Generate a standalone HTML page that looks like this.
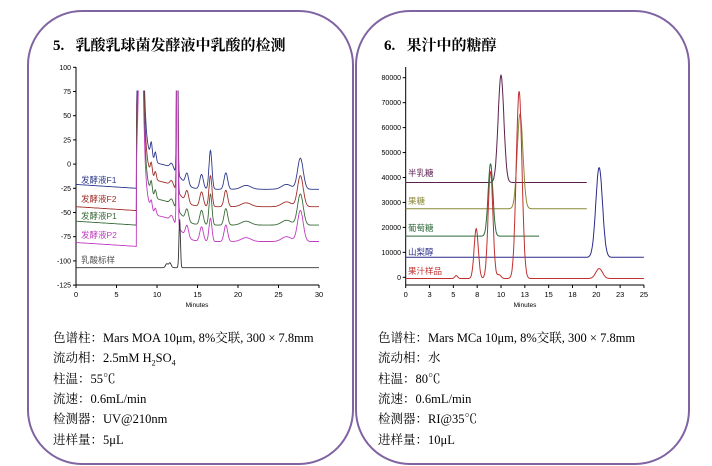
<!DOCTYPE html>
<html><head><meta charset="utf-8"><style>
body{margin:0;width:712px;height:466px;background:#fff;overflow:hidden;position:relative;font-family:"Liberation Serif","Noto Serif CJK SC",serif}
.card{position:absolute;border:2.5px solid #8064a2;border-radius:55px;box-sizing:border-box}
.t{position:absolute;font-size:15px;font-weight:bold;font-family:"Liberation Serif","Noto Serif CJK SC",serif;color:#000}
.p{position:absolute;font-size:12.5px;color:#000;line-height:14px;white-space:nowrap}
svg{position:absolute;left:0;top:0}
</style></head><body>
<div class="card" style="left:27px;top:10px;width:327px;height:455px"></div>
<div class="card" style="left:355px;top:10px;width:335px;height:455px"></div>
<div class="t" style="left:53px;top:34px">5.&nbsp;&nbsp;&nbsp;乳酸乳球菌发酵液中乳酸的检测</div>
<div class="t" style="left:384px;top:34px">6.&nbsp;&nbsp;&nbsp;果汁中的糖醇</div>
<div class="p" style="left:53px;top:331px">色谱柱：Mars MOA 10μm, 8%交联, 300 × 7.8mm</div>
<div class="p" style="left:53px;top:351px">流动相：2.5mM H<sub style="font-size:8px">2</sub>SO<sub style="font-size:8px">4</sub></div>
<div class="p" style="left:53px;top:372px">柱温：55℃</div>
<div class="p" style="left:53px;top:392px">流速：0.6mL/min</div>
<div class="p" style="left:53px;top:412px">检测器：UV@210nm</div>
<div class="p" style="left:53px;top:433px">进样量：5μL</div>
<div class="p" style="left:378px;top:331px">色谱柱：Mars MCa 10μm, 8%交联, 300 × 7.8mm</div>
<div class="p" style="left:378px;top:351px">流动相：水</div>
<div class="p" style="left:378px;top:372px">柱温：80℃</div>
<div class="p" style="left:378px;top:392px">流速：0.6mL/min</div>
<div class="p" style="left:378px;top:412px">检测器：RI@35℃</div>
<div class="p" style="left:378px;top:433px">进样量：10μL</div>
<svg id="s" width="712" height="466" font-family="Liberation Sans, Noto Sans CJK SC, sans-serif"></svg>
<script>
var s=document.getElementById('s'),h='';
function X1(t){return 76+t*8.1}function Y1(v){return 67.3+(100-v)*0.968}
function X2(t){return 405.7+t*9.53}function Y2(v){return 277.3-v*0.002495}
function g(t,c,a,w){return a*Math.exp(-(t-c)*(t-c)/(2*w*w))}
h+='<defs><clipPath id="c1"><rect x="70" y="'+(Y1(76))+'" width="260" height="240"/></clipPath></defs>';
h+='<line x1="76" y1="67" x2="76" y2="285" stroke="#000" stroke-width="1"/><line x1="76" y1="285" x2="319" y2="285" stroke="#000"/>';
for(var v=100;v>=-125;v-=25){h+='<line x1="73" x2="76" y1="'+Y1(v)+'" y2="'+Y1(v)+'" stroke="#000"/><text x="71" y="'+(Y1(v)+2.5)+'" font-size="7" text-anchor="end">'+v+'</text>'}
for(var t=0;t<=30;t+=5){h+='<line x1="'+X1(t)+'" x2="'+X1(t)+'" y1="285" y2="288" stroke="#000"/><text x="'+X1(t)+'" y="297" font-size="7.5" text-anchor="middle">'+t+'</text>'}
h+='<text x="197" y="307" font-size="6.5" text-anchor="middle">Minutes</text>';
function tr(b,sh,col,k){var d='';for(var t=0;t<=30;t+=0.04){var v;
 if(t<7.45)v=b-(t/7.45)*4;else{v=-26+26/(1+Math.exp((t-12.8)/0.6))+sh;
 v+=g(t,7.9,160,0.3)+(t>8.2?90*Math.exp(-(t-8.2)/0.45):g(t,8.2,90,0.2));
 v+=g(t,9.3,15*k,0.12)+g(t,9.8,10*k,0.12)+g(t,11.8,5,0.2)+g(t,12.5,220,0.08)+g(t,13.7,12,0.2)+g(t,15.5,15,0.22)+g(t,16.6,40*k,0.18)+g(t,18.5,17,0.22)+g(t,21,4,0.6)+g(t,26,5,0.6)+g(t,27.7,32,0.35);}
 d+=(d?'L':'M')+X1(t).toFixed(1)+','+Y1(v).toFixed(1)}
 return '<path d="'+d+'" fill="none" stroke="'+col+'" stroke-width="0.9" clip-path="url(#c1)"/>'}
h+=tr(-21,0,'#2e3a8c',1)+tr(-44,-18,'#a0302a',0.8)+tr(-59,-37,'#3a6b3a',0.8)+tr(-81,-54,'#c03cc0',0.6);
var d='';for(var t=0;t<=30;t+=0.04){var v=-107+g(t,11.2,4,0.15)+g(t,11.6,5,0.15)+g(t,12.8,50,0.09);d+=(d?'L':'M')+X1(t).toFixed(1)+','+Y1(v).toFixed(1)}
h+='<path d="'+d+'" fill="none" stroke="#333" stroke-width="0.9"/>';
var L=[['发酵液F1',183,'#2e3a8c'],['发酵液F2',202,'#a0302a'],['发酵液P1',219,'#3a6b3a'],['发酵液P2',238,'#c03cc0'],['乳酸标样',263,'#555']];
L.forEach(function(a){h+='<text x="81" y="'+a[1]+'" font-size="8.5" fill="'+a[2]+'">'+a[0]+'</text>'});
h+='<line x1="405.7" y1="67" x2="405.7" y2="285" stroke="#000"/><line x1="405.7" y1="285" x2="644" y2="285" stroke="#000"/>';
for(var v=0;v<=80000;v+=10000){h+='<line x1="402.7" x2="405.7" y1="'+Y2(v)+'" y2="'+Y2(v)+'" stroke="#000"/><text x="401" y="'+(Y2(v)+2.5)+'" font-size="7" text-anchor="end">'+v+'</text>'}
var xl=['0','3','5','8','10','13','15','18','20','23','25'];
for(var i=0;i<=10;i++){var x=X2(i*2.5);h+='<line x1="'+x+'" x2="'+x+'" y1="285" y2="288" stroke="#000"/><text x="'+x+'" y="297" font-size="7.5" text-anchor="middle">'+xl[i]+'</text>'}
h+='<text x="525" y="307" font-size="6.5" text-anchor="middle">Minutes</text>';
function tr2(b,t1,pk,col){var d='';for(var t=0;t<=t1;t+=0.04){var v=b;pk.forEach(function(p){v+=g(t,p[0],p[1],p[2])});d+=(d?'L':'M')+X2(t).toFixed(1)+','+Y2(v).toFixed(1)}return '<path d="'+d+'" fill="none" stroke="'+col+'" stroke-width="1"/>'}
h+=tr2(38000,19,[[10,43000,0.3]],'#5a2050');
h+=tr2(27500,19,[[12,38000,0.3]],'#8a8a3a');
h+=tr2(16500,14,[[8.9,29000,0.25]],'#2e6a3a');
h+=tr2(8000,25,[[20.3,36000,0.35]],'#2a2a8a');
h+=tr2(-500,25,[[5.3,1200,0.15],[7.4,20000,0.22],[8.9,43000,0.25],[9.8,1500,0.2],[11.9,75000,0.3],[20.3,4000,0.35]],'#c03030');
var R=[['半乳糖',176,'#5a2050'],['果糖',204,'#8a8a3a'],['葡萄糖',231,'#2e6a3a'],['山梨醇',255,'#2a2a8a'],['果汁样品',274,'#c03030']];
R.forEach(function(a){h+='<text x="408" y="'+a[1]+'" font-size="8.5" fill="'+a[2]+'">'+a[0]+'</text>'});
s.innerHTML=h;
</script>
</body></html>
